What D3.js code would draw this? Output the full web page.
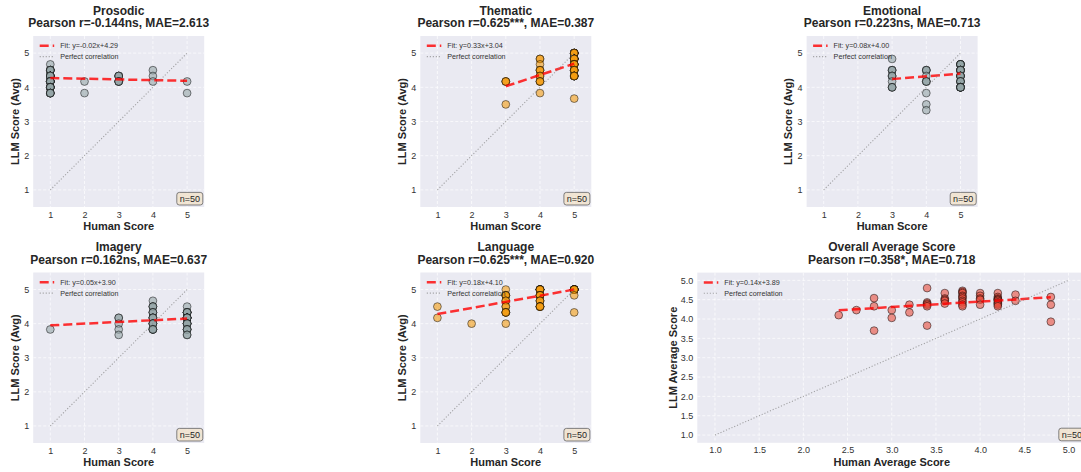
<!DOCTYPE html>
<html><head><meta charset="utf-8">
<script src="https://cdn.jsdelivr.net/npm/d3@7"></script>
<style>
html,body{margin:0;padding:0;background:#fff;overflow:hidden}
svg{display:block;font-family:"Liberation Sans",Arial,Helvetica,sans-serif}
</style>
</head><body>
<svg id="chart" width="1081" height="472"></svg>
<script>
// ---------------- DATA ----------------
const panelNames = ["Prosodic", "Thematic", "Emotional", "Imagery", "Language", "Overall Average Score"];
const statLines = [
  "Pearson r=-0.144ns, MAE=2.613",
  "Pearson r=0.625***, MAE=0.387",
  "Pearson r=0.223ns, MAE=0.713",
  "Pearson r=0.162ns, MAE=0.637",
  "Pearson r=0.625***, MAE=0.920",
  "Pearson r=0.358*, MAE=0.718"
];
const fitSlopes = [-0.02, 0.33, 0.08, 0.05, 0.18, 0.14];
const fitIntercepts = [4.29, 3.04, 4.00, 3.90, 4.10, 3.89];
const sampleSizes = [50, 50, 50, 50, 50, 50];
const scoreTicks = [1, 2, 3, 4, 5];
const avgTicks = [1.0, 1.5, 2.0, 2.5, 3.0, 3.5, 4.0, 4.5, 5.0];

const prosodicHuman = [1,1,1,1,1,1,1,1,1,1,1,1,1,1,1,1,1,1,1,1,1,1,1,1,1,1,1,1,1,1,1,1,1,1,1,
  2,2, 3,3,3,3,3,3,3,3, 4,4,4, 5,5];
const prosodicLLM = [4.67,4.5,4.5,4.5,4.5,4.5,4.5,4.33,4.33,4.33,4.33,4.33,4.33,4.33,4.33,
  4.17,4.17,4.17,4.17,4.17,4.17,4.17,4.17,4.0,4.0,4.0,4.0,4.0,4.0,4.0,3.83,3.83,3.83,3.83,3.83,
  4.17,3.83, 4.33,4.33,4.33,4.33,4.17,4.17,4.17,4.17, 4.5,4.33,4.17, 4.17,3.83];

const thematicHuman = [3,3,3,3, 4,4,4,4,4,4,4,4,4,4,4,4,
  5,5,5,5,5,5,5,5,5,5,5,5,5,5,5,5,5,5,5,5,5,5,5,5,5,5,5,5,5,5,5,5,5,5];
const thematicLLM = [4.17,4.17,4.17,3.5, 4.83,4.83,4.67,4.5,4.5,4.5,4.33,4.33,4.17,4.17,4.17,3.83,
  5.0,5.0,5.0,5.0,5.0,5.0,5.0,5.0,4.83,4.83,4.83,4.83,4.83,4.83,4.83,4.83,
  4.67,4.67,4.67,4.67,4.67,4.67,4.5,4.5,4.5,4.5,4.5,4.33,4.33,4.33,4.33,4.33,4.33,3.67];

const emotionalHuman = [3,3,3,3,3,3,3,3,3,3,3, 4,4,4,4,4,4,4,4,4,4,
  5,5,5,5,5,5,5,5,5,5,5,5,5,5,5,5,5,5,5,5,5,5,5,5,5,5,5,5,5];
const emotionalLLM = [4.83,4.5,4.5,4.5,4.33,4.33,4.33,4.17,4.0,4.0,4.0,
  4.5,4.5,4.5,4.33,4.17,4.17,4.17,3.83,3.5,3.33,
  4.67,4.67,4.67,4.67,4.67,4.67,4.5,4.5,4.5,4.5,4.5,4.5,4.5,4.33,4.33,4.33,4.33,4.33,
  4.17,4.17,4.17,4.17,4.0,4.0,4.0,4.0,4.0,4.0,4.0];

const imageryHuman = [1, 3,3,3,3,3, 4,4,4,4,4,4,4,4,4,4,4,4,4,4,4,4,4,4,4,
  5,5,5,5,5,5,5,5,5,5,5,5,5,5,5,5,5,5,5,5,5,5,5,5,5];
const imageryLLM = [3.83, 4.17,4.17,4.0,3.83,3.67,
  4.67,4.5,4.5,4.5,4.33,4.33,4.33,4.17,4.17,4.17,4.17,4.0,4.0,4.0,4.0,3.83,3.83,3.83,3.83,
  4.5,4.33,4.33,4.33,4.33,4.33,4.33,4.17,4.17,4.17,4.17,4.17,4.17,4.17,
  4.0,4.0,4.0,4.0,4.0,3.83,3.83,3.83,3.83,3.67,3.67];

const languageHuman = [1,1, 2, 3,3,3,3,3,3,3,3,3,3,3,3,3,3,
  4,4,4,4,4,4,4,4,4,4,4,4,4,4,4,4,4,4,4,4,4, 5,5,5,5,5,5,5,5,5,5,5,5];
const languageLLM = [4.5,4.17, 4.0, 5.0,4.83,4.83,4.83,4.83,4.67,4.67,4.5,4.5,4.33,4.33,4.33,4.33,4.0,
  5.0,5.0,5.0,5.0,5.0,5.0,5.0,5.0,4.83,4.83,4.83,4.83,4.83,4.67,4.67,4.67,4.5,4.5,4.5,4.5,4.5,
  5.0,5.0,5.0,5.0,5.0,5.0,5.0,5.0,5.0,5.0,4.83,4.33];

const overallHuman = [2.4, 2.6, 2.8,2.8,2.8, 3.0,3.0, 3.2,3.2,
  3.4,3.4,3.4,3.4,3.4,3.4, 3.6,3.6,3.6,3.6,3.6,
  3.8,3.8,3.8,3.8,3.8,3.8,3.8,3.8,3.8,3.8, 4.0,4.0,4.0,4.0,4.0,
  4.2,4.2,4.2,4.2,4.2,4.2,4.2,4.2,4.2,4.2, 4.4,4.4, 4.8,4.8,4.8];
const overallLLM = [4.10, 4.23, 4.54,4.33,3.70, 4.23,4.03, 4.37,4.17,
  4.80,4.43,4.40,4.37,4.33,3.83, 4.67,4.53,4.50,4.47,4.40,
  4.73,4.70,4.67,4.60,4.57,4.53,4.47,4.43,4.37,4.33, 4.67,4.60,4.53,4.50,4.37,
  4.67,4.57,4.53,4.50,4.50,4.47,4.43,4.40,4.37,4.33, 4.63,4.47, 4.57,4.37,3.93];

const humanSeries = [prosodicHuman, thematicHuman, emotionalHuman, imageryHuman, languageHuman, overallHuman];
const llmSeries = [prosodicLLM, thematicLLM, emotionalLLM, imageryLLM, languageLLM, overallLLM];

// ---------------- STYLE / LAYOUT ----------------
const gray = "#95a5a6", orange = "#f39c12", red = "#e74c3c";
const panelColors = [gray, orange, gray, gray, orange, red];
const rowTops = [36, 272.5], rowBottoms = [207, 443];
const colLefts = [33.2, 420.3, 806.6], colRights = [204.2, 591.3, 977.6];
const layouts = [
  {l: colLefts[0], r: colRights[0], t: rowTops[0], b: rowBottoms[0]},
  {l: colLefts[1], r: colRights[1], t: rowTops[0], b: rowBottoms[0]},
  {l: colLefts[2], r: colRights[2], t: rowTops[0], b: rowBottoms[0]},
  {l: colLefts[0], r: colRights[0], t: rowTops[1], b: rowBottoms[1]},
  {l: colLefts[1], r: colRights[1], t: rowTops[1], b: rowBottoms[1]},
  {l: 697.3, r: 1086.2, t: 272.6, b: 442.8}
];

const svg = d3.select("#chart");
svg.append("rect").attr("width", 1081).attr("height", 472).attr("fill", "#fff");

layouts.forEach((L, i) => {
  const isAvg = i === 5;
  const dom = isAvg ? [0.8, 5.2] : [0.5, 5.5];
  const ticks = isAvg ? avgTicks : scoreTicks;
  const fmt = isAvg ? d3.format(".1f") : d3.format("d");
  const x = d3.scaleLinear().domain(dom).range([L.l, L.r]);
  const y = d3.scaleLinear().domain(dom).range([L.b, L.t]);
  const g = svg.append("g");
  const cx = (L.l + L.r) / 2;

  // background
  g.append("rect").attr("x", L.l).attr("y", L.t).attr("width", L.r - L.l).attr("height", L.b - L.t)
    .attr("fill", "#eaeaf2");

  // grid
  const clipId = "clip" + i;
  svg.append("clipPath").attr("id", clipId).append("rect")
    .attr("x", L.l).attr("y", L.t).attr("width", L.r - L.l).attr("height", L.b - L.t);
  const inner = g.append("g").attr("clip-path", `url(#${clipId})`);

  inner.append("g").selectAll("line.gx").data(ticks).join("line")
    .attr("x1", d => x(d)).attr("x2", d => x(d)).attr("y1", L.t).attr("y2", L.b)
    .attr("stroke", "#fff").attr("stroke-width", 0.9).attr("stroke-dasharray", "3,2").attr("opacity", 0.75);
  inner.append("g").selectAll("line.gy").data(ticks).join("line")
    .attr("y1", d => y(d)).attr("y2", d => y(d)).attr("x1", L.l).attr("x2", L.r)
    .attr("stroke", "#fff").attr("stroke-width", 0.9).attr("stroke-dasharray", "3,2").attr("opacity", 0.75);

  // scatter
  const pts = humanSeries[i].map((h, k) => ({h, v: llmSeries[i][k]}));
  inner.append("g").selectAll("circle").data(pts).join("circle")
    .attr("cx", d => x(d.h)).attr("cy", d => y(d.v)).attr("r", 3.9)
    .attr("fill", panelColors[i]).attr("fill-opacity", 0.6)
    .attr("stroke", "#000").attr("stroke-opacity", 0.6).attr("stroke-width", 0.8);

  // fit line
  const xs = humanSeries[i];
  const x0 = d3.min(xs), x1 = d3.max(xs);
  const a = fitSlopes[i], b = fitIntercepts[i];
  inner.append("line")
    .attr("x1", x(x0)).attr("y1", y(a * x0 + b)).attr("x2", x(x1)).attr("y2", y(a * x1 + b))
    .attr("stroke", "#ff0000").attr("stroke-opacity", 0.8).attr("stroke-width", 2.5)
    .attr("stroke-dasharray", "9,4");

  // perfect correlation
  inner.append("line")
    .attr("x1", x(1)).attr("y1", y(1)).attr("x2", x(5)).attr("y2", y(5))
    .attr("stroke", "#808080").attr("stroke-opacity", 0.7).attr("stroke-width", 1.1)
    .attr("stroke-dasharray", "1.1,1.9");

  // legend
  const lg = inner.append("g");
  const ly1 = L.t + 9.8, ly2 = L.t + 20.6;
  lg.append("line").attr("x1", L.l + 6.5).attr("x2", L.l + 21).attr("y1", ly1).attr("y2", ly1)
    .attr("stroke", "#ff0000").attr("stroke-opacity", 0.8).attr("stroke-width", 2.5).attr("stroke-dasharray", "9,4");
  lg.append("line").attr("x1", L.l + 6.5).attr("x2", L.l + 21).attr("y1", ly2).attr("y2", ly2)
    .attr("stroke", "#808080").attr("stroke-opacity", 0.7).attr("stroke-width", 1.1).attr("stroke-dasharray", "1.1,1.9");
  lg.append("text").attr("x", L.l + 27).attr("y", ly1).attr("dy", "0.35em")
    .attr("font-size", 7.2).attr("fill", "#333")
    .text(`Fit: y=${a.toFixed(2)}x+${b.toFixed(2)}`);
  lg.append("text").attr("x", L.l + 27).attr("y", ly2).attr("dy", "0.35em")
    .attr("font-size", 7.2).attr("fill", "#333").text("Perfect correlation");

  // n box
  const bw = 26, bh = 12.6;
  const bx = L.r - 1.4 - bw, by = L.b - 2 - bh;
  inner.append("rect").attr("x", bx).attr("y", by).attr("width", bw).attr("height", bh)
    .attr("rx", 2.5).attr("fill", "#f5deb3").attr("fill-opacity", 0.5)
    .attr("stroke", "#555").attr("stroke-opacity", 0.8).attr("stroke-width", 0.9);
  inner.append("text").attr("x", bx + bw / 2).attr("y", by + bh / 2).attr("dy", "0.36em")
    .attr("text-anchor", "middle").attr("font-size", 9).attr("fill", "#262626")
    .text("n=" + sampleSizes[i]);

  // axes (tick labels via d3 axes)
  const xAxis = d3.axisBottom(x).tickValues(ticks).tickFormat(fmt).tickSize(0).tickPadding(4);
  const yAxis = d3.axisLeft(y).tickValues(ticks).tickFormat(fmt).tickSize(0).tickPadding(4);
  const gx = g.append("g").attr("transform", `translate(0,${L.b})`).call(xAxis);
  const gy = g.append("g").attr("transform", `translate(${L.l},0)`).call(yAxis);
  [gx, gy].forEach(ax => {
    ax.select(".domain").remove();
    ax.selectAll("text").attr("font-size", 9).attr("fill", "#333")
      .attr("font-family", '"Liberation Sans",Arial,sans-serif');
  });
  gx.selectAll("text").attr("dy", null).attr("y", 10.5);

  // axis labels
  g.append("text").attr("x", cx).attr("y", L.b + 23).attr("text-anchor", "middle")
    .attr("font-size", 11).attr("font-weight", "bold").attr("fill", "#262626")
    .text(isAvg ? "Human Average Score" : "Human Score");
  const ylx = isAvg ? L.l - 20.5 : L.l - 14.6;
  g.append("text").attr("transform", `translate(${ylx},${(L.t + L.b) / 2}) rotate(-90)`)
    .attr("text-anchor", "middle").attr("font-size", 11).attr("font-weight", "bold").attr("fill", "#262626")
    .text(isAvg ? "LLM Average Score" : "LLM Score (Avg)");

  // titles
  g.append("text").attr("x", cx).attr("y", L.t - 21.3).attr("text-anchor", "middle")
    .attr("font-size", 12).attr("font-weight", "bold").attr("fill", "#262626").text(panelNames[i]);
  g.append("text").attr("x", cx).attr("y", L.t - 8.8).attr("text-anchor", "middle")
    .attr("font-size", 12).attr("font-weight", "bold").attr("fill", "#262626").text(statLines[i]);
});
</script>
</body></html>
